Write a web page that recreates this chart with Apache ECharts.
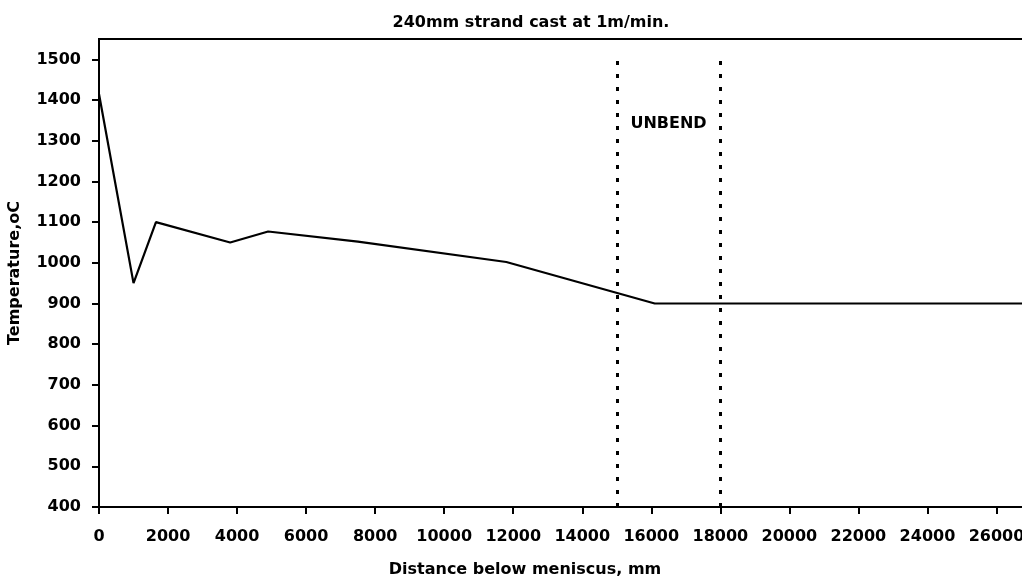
<!DOCTYPE html>
<html>
<head>
<meta charset="utf-8">
<script src="https://cdn.jsdelivr.net/npm/echarts@6/dist/echarts.min.js"></script>
<style>html,body{margin:0;padding:0;background:#fff;}#c{width:1022px;height:581px;}</style>
</head>
<body>
<div id="c"></div>
<script>
const titleText = "240mm strand cast at 1m/min.";
const xName = "Distance below meniscus, mm";
const yName = "Temperature,oC";
const distance = [0, 1000, 1650, 3800, 4900, 7500, 11800, 16100, 27000];
const temperature = [1415, 950, 1100, 1050, 1077, 1052, 1002, 900, 900];
const unbendStart = 15000;
const unbendEnd = 18000;
const unbendLabel = "UNBEND";

const FONT = "DejaVu Sans";
const chart = echarts.init(document.getElementById('c'), null, {renderer: 'canvas'});
const pts = distance.map((d, i) => [d, temperature[i]]);
const plain = v => String(v);
chart.setOption({
  animation: false,
  backgroundColor: '#fff',
  title: {
    text: titleText, left: 526, top: 10, textAlign: 'center',
    textStyle: {fontFamily: FONT, fontWeight: 'bold', fontSize: 16, color: '#000'}
  },
  grid: {left: 99, top: 39, right: -9, bottom: 74, outerBoundsMode: 'none', containLabel: false,
    show: true, borderColor: '#000', borderWidth: 2, backgroundColor: '#fff'},
  xAxis: {
    type: 'value', min: 0, max: 27000, interval: 2000,
    name: xName, nameLocation: 'middle', nameGap: 55,
    nameTextStyle: {fontFamily: FONT, fontWeight: 'bold', fontSize: 16, color: '#000', padding: [0, 80, 0, 0]},
    axisLine: {show: true, lineStyle: {color: '#000', width: 2}},
    axisTick: {show: true, inside: false, length: 7, lineStyle: {color: '#000', width: 2}},
    axisLabel: {fontFamily: FONT, fontWeight: 'bold', fontSize: 16, color: '#000', margin: 22, showMaxLabel: false, formatter: plain},
    splitLine: {show: false}
  },
  yAxis: {
    type: 'value', min: 400, max: 1550, interval: 100,
    name: yName, nameLocation: 'middle', nameGap: 76, nameRotate: 90,
    nameTextStyle: {fontFamily: FONT, fontWeight: 'bold', fontSize: 16, color: '#000'},
    axisLine: {show: true, lineStyle: {color: '#000', width: 2}},
    axisTick: {show: true, inside: false, length: 7, lineStyle: {color: '#000', width: 2}},
    axisLabel: {fontFamily: FONT, fontWeight: 'bold', fontSize: 16, color: '#000', margin: 18, showMaxLabel: false, formatter: plain},
    splitLine: {show: false}
  },
  series: [{
    type: 'line', data: pts, symbol: 'none',
    lineStyle: {color: '#000', width: 2.2},
    markLine: {
      silent: true, symbol: 'none', label: {show: false},
      lineStyle: {color: '#000', width: 3, type: [4, 9]},
      data: [
        [{coord: [unbendStart, 400]}, {coord: [unbendStart, 1510]}],
        [{coord: [unbendEnd, 400]}, {coord: [unbendEnd, 1510]}]
      ]
    },
    markPoint: {
      silent: true, symbol: 'circle', symbolSize: 0,
      label: {show: true, formatter: unbendLabel, fontFamily: FONT, fontWeight: 'bold', fontSize: 16, color: '#000', position: 'inside'},
      data: [{coord: [(unbendStart + unbendEnd) / 2, 1342]}]
    }
  }]
});
</script>
</body>
</html>
